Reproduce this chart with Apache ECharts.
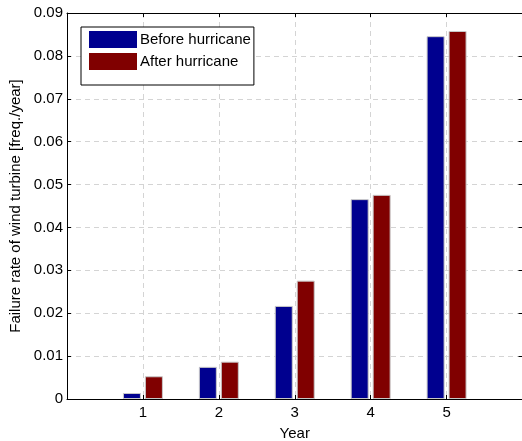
<!DOCTYPE html>
<html>
<head>
<meta charset="utf-8">
<script src="https://cdn.jsdelivr.net/npm/echarts@6/dist/echarts.min.js"></script>
<style>
html,body{margin:0;padding:0;background:#fff;}
#c{width:522px;height:441px;}
</style>
</head>
<body>
<div id="c"></div>
<script>
var years = [1, 2, 3, 4, 5];
var beforeHurricane = [0.0014, 0.0075, 0.0217, 0.0466, 0.0846];
var afterHurricane = [0.0053, 0.0087, 0.0276, 0.0476, 0.0858];
var seriesNames = ['Before hurricane', 'After hurricane'];
var xLabel = 'Year';
var yLabel = 'Failure rate of wind turbine [freq./year]';

var FONT = "'Liberation Sans', Arial, Helvetica, sans-serif";
function pairs(vals){ return years.map(function(y,i){ return [y, vals[i]]; }); }

var chart = echarts.init(document.getElementById('c'), null, {renderer:'canvas'});
var gridLine = {show:true, lineStyle:{color:'#d4d4d4', type:[5,4], width:1}};
chart.setOption({
  animation:false,
  backgroundColor:'#ffffff',
  textStyle:{fontFamily:FONT},
  grid:{left:67, top:13, width:455.5, height:386, containLabel:false, outerBoundsMode:'none'},
  legend:{
    show:true, orient:'vertical', left:81, top:27,
    data:seriesNames,
    icon:'rect', itemWidth:48, itemHeight:17, itemGap:5,
    padding:[4,3,15,8],
    borderColor:'#000', borderWidth:1, backgroundColor:'#fff',
    textStyle:{fontFamily:FONT, fontSize:15, color:'#000', padding:[0,0,0,-2]},
    itemStyle:{borderWidth:0}
  },
  xAxis:[{
    type:'value', min:0, max:6, interval:1, position:'bottom',
    name:xLabel, nameLocation:'middle', nameGap:27,
    nameTextStyle:{fontFamily:FONT, fontSize:15, color:'#000'},
    axisLine:{show:true, onZero:false, lineStyle:{color:'#000', width:1}},
    axisTick:{show:true, inside:true, length:4, lineStyle:{color:'#000'}},
    axisLabel:{fontFamily:FONT, fontSize:15, color:'#000', margin:6,
      formatter:function(v){ return (v>=1 && v<=5) ? String(v) : ''; }},
    splitLine:gridLine
  },{
    type:'value', min:0, max:6, interval:1, position:'top',
    axisLine:{show:true, onZero:false, lineStyle:{color:'#000', width:1}},
    axisTick:{show:true, inside:true, length:4, lineStyle:{color:'#000'}},
    axisLabel:{show:false}, splitLine:{show:false}
  }],
  yAxis:[{
    type:'value', min:0, max:0.09, interval:0.01, position:'left',
    name:yLabel, nameLocation:'middle', nameGap:43, nameRotate:90,
    nameTextStyle:{fontFamily:FONT, fontSize:15, color:'#000'},
    axisLine:{show:true, onZero:false, lineStyle:{color:'#000', width:1}},
    axisTick:{show:true, inside:true, length:4, lineStyle:{color:'#000'}},
    axisLabel:{fontFamily:FONT, fontSize:15, color:'#000', margin:4,
      formatter:function(v){ return v===0 ? '0' : (+v.toFixed(2)).toString(); }},
    splitLine:gridLine
  },{
    type:'value', min:0, max:0.09, interval:0.01, position:'right',
    axisLine:{show:true, onZero:false, lineStyle:{color:'#000', width:1}},
    axisTick:{show:true, inside:true, length:4, lineStyle:{color:'#000'}},
    axisLabel:{show:false}, splitLine:{show:false}
  }],
  series:[{
    name:seriesNames[0], type:'bar', xAxisIndex:0, yAxisIndex:0,
    data:pairs(beforeHurricane), barWidth:18, barGap:'22%',
    itemStyle:{color:'#00008F', borderColor:'#c8c8c8', borderWidth:1}
  },{
    name:seriesNames[1], type:'bar', xAxisIndex:0, yAxisIndex:0,
    data:pairs(afterHurricane), barWidth:18, barGap:'22%',
    itemStyle:{color:'#800000', borderColor:'#c8c8c8', borderWidth:1}
  }]
});
</script>
</body>
</html>
